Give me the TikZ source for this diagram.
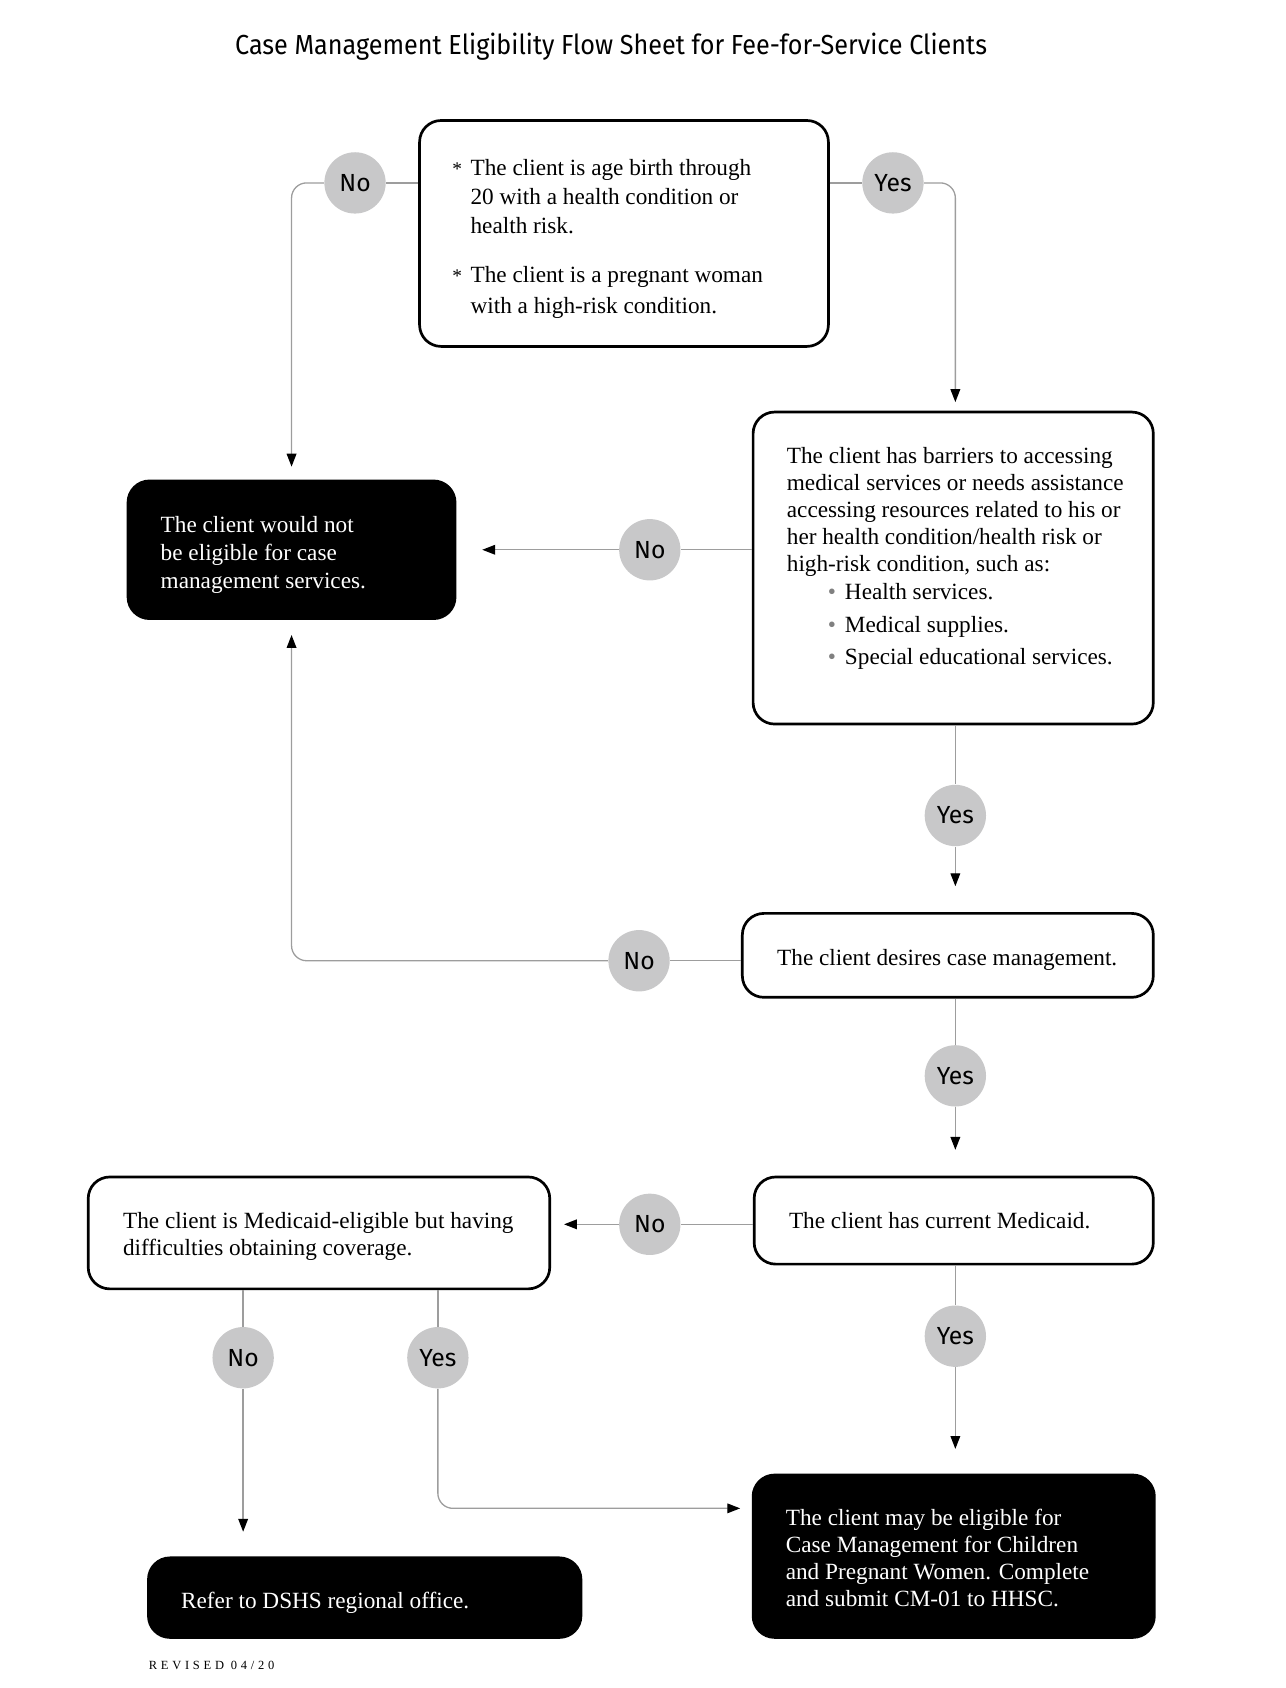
\documentclass[tikz,border=0pt]{standalone}
\usepackage{fontspec}
\setmainfont{Liberation Serif}
\newfontfamily\titlefont[FakeStretch=0.915]{Fira Sans}
\newfontfamily\labelfont{Fira Sans}
\usetikzlibrary{arrows.meta}
\definecolor{circ}{HTML}{C8C8C9}
\definecolor{conn}{HTML}{9D9D9D}
\begin{document}
\begin{tikzpicture}[x=0.5pt,y=-0.5pt,
  box/.style={draw=black, line width=1.25pt, rounded corners=10pt, fill=white, inner sep=0pt},
  darkbox/.style={draw=black, fill=black, line width=1.25pt, rounded corners=10pt, inner sep=0pt},
  dec/.style={circle, fill=circ, minimum size=28.5pt, inner sep=0pt, font=\labelfont\fontsize{11.5}{11.5}\selectfont},
  txt/.style={anchor=base west, inner sep=0pt, font=\fontsize{10.8}{12.5}\selectfont},
  conline/.style={draw=conn, line width=0.6pt},
  arr/.style={conline, -{Triangle[length=6pt,width=4.5pt,color=black]}},
]
\useasboundingbox (0,0) rectangle (1195,1569);

% title
\node[anchor=base, inner sep=0pt, font=\titlefont\fontsize{12.8}{14}\selectfont] (title) at (568,51)
  {Case Management Eligibility Flow Sheet for Fee-for-Service Clients};

% boxes
\node[box, minimum width=190pt, minimum height=105pt] (b1) at (580,217) {};
\node[box, minimum width=186pt, minimum height=145pt] (b2) at (886,528) {};
\node[darkbox, minimum width=152pt, minimum height=64pt] (bA) at (271,511) {};
\node[box, minimum width=191pt, minimum height=39pt] (b3) at (881,888) {};
\node[box, minimum width=185.5pt, minimum height=40.5pt] (b4) at (886.5,1134.5) {};
\node[box, minimum width=214.5pt, minimum height=52pt] (b5) at (296.5,1146) {};
\node[darkbox, minimum width=201pt, minimum height=37pt] (bB) at (339,1485) {};
\node[darkbox, minimum width=186.5pt, minimum height=75.5pt] (bC) at (886.5,1446.5) {};

% decision circles
\node[dec] (n1) at (330,170) {No};
\node[dec] (y1) at (830,170) {Yes};
\node[dec] (n2) at (604,511) {No};
\node[dec] (y2) at (888,758) {Yes};
\node[dec] (n3) at (594,893) {No};
\node[dec] (y3) at (888,1000) {Yes};
\node[dec] (n4) at (604,1138) {No};
\node[dec] (y4) at (888,1242) {Yes};
\node[dec] (n5) at (226,1262) {No};
\node[dec] (y5) at (407,1262) {Yes};

\coordinate (cin) at (700,1402);

% connectors
\draw[conline] (b1.west |- n1) -- (n1);
\draw[arr, rounded corners=7pt, shorten >=6pt] (n1) -| (bA.north);
\draw[conline] (b1.east |- y1) -- (y1);
\draw[arr, rounded corners=7pt, shorten >=4pt] (y1) -| (y2 |- b2.north);
\draw[conline] (b2.west |- n2) -- (n2);
\draw[arr, shorten >=12pt] (n2) -- (bA.east);
\draw[conline] (y2 |- b2.south) -- (y2);
\draw[arr, shorten >=12pt] (y2) -- (y2 |- b3.north);
\draw[conline] (b3.west |- n3) -- (n3);
\draw[arr, rounded corners=7pt, shorten >=7pt] (n3) -| (bA.south);
\draw[conline] (y3 |- b3.south) -- (y3);
\draw[arr, shorten >=12pt] (y3) -- (y3 |- b4.north);
\draw[conline] (b4.west |- n4) -- (n4);
\draw[arr, shorten >=6pt] (n4) -- (b5.east |- n4);
\draw[conline] (y4 |- b4.south) -- (y4);
\draw[arr, shorten >=11.5pt] (y4) -- (y4 |- bC.north);
\draw[conline] (n5 |- b5.south) -- (n5);
\draw[arr, shorten >=11.5pt] (n5) -- (n5 |- bB.north);
\draw[conline] (y5 |- b5.south) -- (y5);
\draw[arr, rounded corners=7pt, shorten >=6pt] (y5) |- (cin);

% texts
\node[txt] (t1) at (437,163) {\parbox[t]{170pt}{\fontsize{10.8}{13.4}\selectfont
  \leavevmode\llap{{\small *}\hspace{4pt}}The client is age birth through\\
  20 with a health condition or\\
  health risk.\\[9.8pt]
  \leavevmode\llap{{\small *}\hspace{4pt}}The client is a pregnant woman\\[0.6pt]
  with a high-risk condition.}};
\node[txt] (t2) at (731,431) {\parbox[t]{185pt}{%
  The client has barriers to accessing\\
  medical services or needs assistance\\
  accessing resources related to his or\\
  her health condition/health risk or\\
  high-risk condition, such as:\\[0.5pt]
  \hspace*{19pt}\makebox[8pt][l]{\textcolor{gray}{\textbullet}}Health services.\\[3pt]
  \hspace*{19pt}\makebox[8pt][l]{\textcolor{gray}{\textbullet}}Medical supplies.\\[2.5pt]
  \hspace*{19pt}\makebox[8pt][l]{\textcolor{gray}{\textbullet}}Special educational services.}};
\node[txt, text=white] (tA) at (149,495) {\parbox[t]{140pt}{\fontsize{10.8}{13}\selectfont
  The client would not\\
  be eligible for case\\
  management services.}};
\node[txt] (t3) at (722,897) {The client desires case management.};
\node[txt] (t4) at (733,1142) {The client has current Medicaid.};
\node[txt] (t5) at (114,1142) {\parbox[t]{210pt}{%
  The client is Medicaid-eligible but having\\
  difficulties obtaining coverage.}};
\node[txt, text=white] (tB) at (168,1495) {Refer to DSHS regional office.};
\node[txt, text=white] (tC) at (730,1418) {\parbox[t]{180pt}{%
  The client may be eligible for\\
  Case Management for Children\\
  and Pregnant Women. Complete\\
  and submit CM-01 to HHSC.}};

\node[anchor=base west, inner sep=0pt, font=\fontsize{5.8}{7}\selectfont] (rev) at (138,1552)
  {\addfontfeature{LetterSpace=30}REVISED 04/20};
\end{tikzpicture}
\end{document}
